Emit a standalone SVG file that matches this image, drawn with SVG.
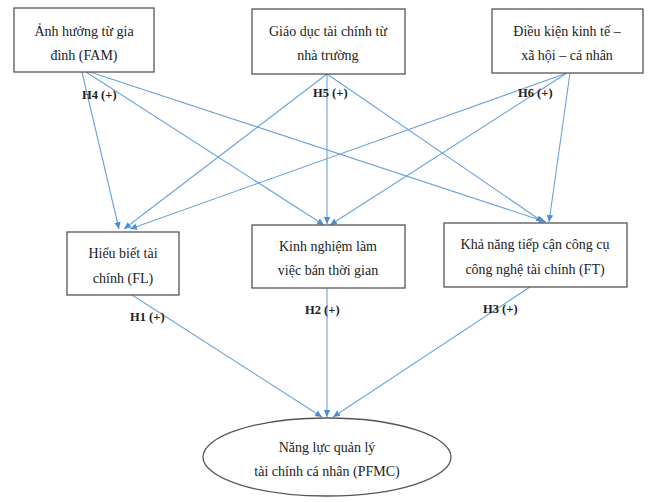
<svg xmlns="http://www.w3.org/2000/svg" width="652" height="502" viewBox="0 0 652 502">
<defs>
<marker id="ah" markerWidth="8" markerHeight="8" refX="7" refY="4" orient="auto" markerUnits="userSpaceOnUse">
<path d="M0,0.8 L7,4 L0,7.2 Z" fill="#4a8fd6"/>
</marker>
<style>
.box{fill:#fff;stroke:#555;stroke-width:1.3}
.t{font-family:"Liberation Serif","Times New Roman",serif;font-size:14px;fill:#222;text-anchor:middle}
.lab{font-family:"Liberation Serif","Times New Roman",serif;font-size:12.5px;font-weight:bold;fill:#222}
.c{stroke:#6aa3dc;stroke-width:1.1;fill:none;marker-end:url(#ah)}
</style>
</defs>
<rect width="652" height="502" fill="#fff"/>
<g id="connectors">
<line class="c" x1="82" y1="72" x2="119" y2="229"/>
<line class="c" x1="86" y1="72" x2="324" y2="225"/>
<line class="c" x1="90" y1="72" x2="546" y2="222"/>
<line class="c" x1="327" y1="74" x2="124" y2="229"/>
<line class="c" x1="327" y1="74" x2="327" y2="224"/>
<line class="c" x1="327" y1="74" x2="543" y2="222"/>
<line class="c" x1="567" y1="73" x2="130" y2="229"/>
<line class="c" x1="567" y1="73" x2="330" y2="225"/>
<line class="c" x1="570" y1="73" x2="549" y2="222"/>
<line class="c" x1="132" y1="295" x2="322" y2="417"/>
<line class="c" x1="327" y1="288" x2="327" y2="417"/>
<line class="c" x1="530" y1="287" x2="333" y2="417"/>
</g>
<g id="fam"><rect class="box" x="14" y="8" width="140" height="64"/><text class="t" x="84" y="36">Ảnh hưởng từ gia</text><text class="t" x="84" y="60">đình (FAM)</text></g>
<g id="school"><rect class="box" x="252" y="9" width="153" height="65"/><text class="t" x="328" y="36">Giáo dục tài chính từ</text><text class="t" x="328" y="60">nhà trường</text></g>
<g id="ses"><rect class="box" x="492" y="9" width="151" height="64"/><text class="t" x="567" y="36">Điều kiện kinh tế –</text><text class="t" x="567" y="60">xã hội – cá nhân</text></g>
<g id="fl"><rect class="box" x="67" y="232" width="112" height="63"/><text class="t" x="123" y="258">Hiểu biết tài</text><text class="t" x="123" y="283">chính (FL)</text></g>
<g id="work"><rect class="box" x="252" y="225" width="153" height="63"/><text class="t" x="328" y="251">Kinh nghiệm làm</text><text class="t" x="328" y="275">việc bán thời gian</text></g>
<g id="ft"><rect class="box" x="444" y="223" width="183" height="64"/><text class="t" x="535" y="249">Khả năng tiếp cận công cụ</text><text class="t" x="535" y="274">công nghệ tài chính (FT)</text></g>
<g id="pfmc"><ellipse class="box" cx="327" cy="457" rx="124" ry="39"/><text class="t" x="327" y="452">Năng lực quản lý</text><text class="t" x="327" y="476">tài chính cá nhân (PFMC)</text></g>
<g id="labels">
<text class="lab" x="82" y="99">H4 (+)</text>
<text class="lab" x="313" y="97">H5 (+)</text>
<text class="lab" x="518" y="97">H6 (+)</text>
<text class="lab" x="130" y="321">H1 (+)</text>
<text class="lab" x="305" y="314">H2 (+)</text>
<text class="lab" x="483" y="313">H3 (+)</text>
</g>
</svg>
